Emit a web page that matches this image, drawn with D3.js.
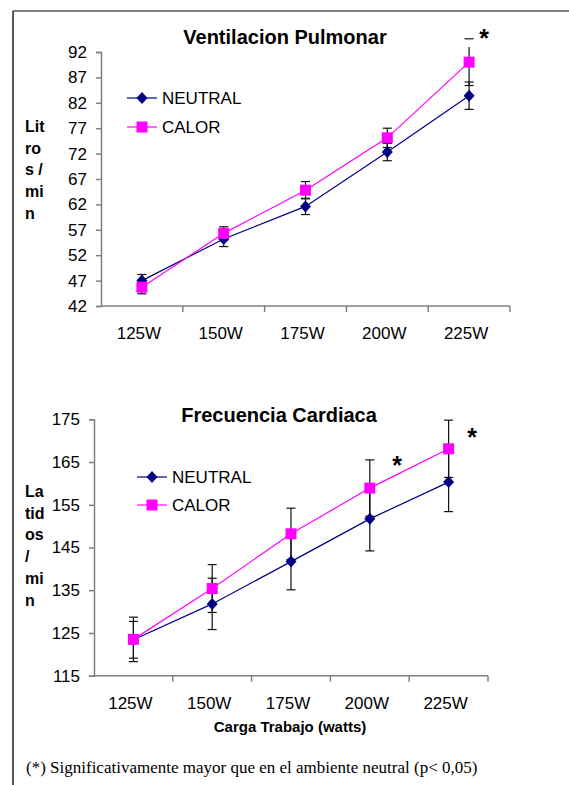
<!DOCTYPE html>
<html>
<head>
<meta charset="utf-8">
<script src="https://cdn.jsdelivr.net/npm/d3@7"></script>
<style>
  body { margin: 0; background: #fff; }
  text { font-family: "Liberation Sans", Arial, sans-serif; }
</style>
</head>
<body>
<div id="chart"></div>
<script>
// categories shared by both charts
var cargas = ["125W", "150W", "175W", "200W", "225W"];

// ventilacion pulmonar (litros/min)
var ventNeutral = [47.0, 55.2, 61.6, 72.3, 83.4];
var ventNeutralSd = [1.2, 1.5, 1.6, 1.7, 2.7];
var ventCalor = [45.7, 56.3, 64.8, 75.1, 90.0];
var ventCalorSd = [1.3, 1.3, 1.7, 1.9, 4.6];
var ventTicks = [42, 47, 52, 57, 62, 67, 72, 77, 82, 87, 92];

// frecuencia cardiaca (latidos/min)
var fcNeutral = [123.4, 131.8, 141.7, 151.7, 160.3];
var fcNeutralSd = [4.3, 6.0, 6.6, 7.5, 6.9];
var fcCalor = [123.5, 135.4, 148.2, 158.9, 168.1];
var fcCalorSd = [5.2, 5.6, 6.0, 6.6, 6.7];
var fcTicks = [115, 125, 135, 145, 155, 165, 175];

var navy = "#000080", magenta = "#ff00ff";

var svg = d3.select("#chart")
	.append("svg")
	.attr("width", 569)
	.attr("height", 785);

// outer frame (only top and left edges show)
svg.append("line").attr("x1", 13).attr("x2", 569).attr("y1", 11).attr("y2", 11)
	.attr("stroke", "#555").attr("stroke-width", 1.5);
svg.append("line").attr("x1", 13).attr("x2", 13).attr("y1", 11).attr("y2", 785)
	.attr("stroke", "#222").attr("stroke-width", 1.5);

function drawChart(c) {
	var g = svg.append("g");

	var x = d3.scaleBand().domain(cargas).range([c.left, c.right]);
	var y = d3.scaleLinear().domain(c.domain).range([c.bottom, c.top]);
	var cx = function(i) { return x(cargas[i]) + x.bandwidth() / 2; };

	// y axis
	var yAxis = g.append("g")
		.attr("transform", "translate(" + c.left + ",0)")
		.call(d3.axisLeft(y).tickValues(c.ticks).tickSize(5).tickPadding(9));
	yAxis.select(".domain").attr("stroke", "#808080").attr("stroke-width", 1.5);
	yAxis.selectAll(".tick line").attr("stroke", "#808080").attr("stroke-width", 1.5);
	yAxis.selectAll(".tick text").attr("font-size", 17).attr("fill", "#000")
		.attr("font-family", null);

	// x axis: ticks at category boundaries
	g.append("line").attr("x1", c.left).attr("x2", c.right)
		.attr("y1", c.bottom).attr("y2", c.bottom)
		.attr("stroke", "#808080").attr("stroke-width", 1.5);
	g.selectAll(".bt").data(cargas).enter().append("line")
		.attr("x1", function(d) { return x(d) + x.bandwidth(); })
		.attr("x2", function(d) { return x(d) + x.bandwidth(); })
		.attr("y1", c.bottom).attr("y2", c.bottom + 6)
		.attr("stroke", "#808080").attr("stroke-width", 1.5);
	g.selectAll(".lbl").data(cargas).enter().append("text")
		.attr("x", function(d) { return x(d) + x.bandwidth() / 2 - 3; })
		.attr("y", c.labelY)
		.attr("text-anchor", "middle")
		.attr("font-size", 17)
		.text(function(d) { return d; });

	// title
	g.append("text").attr("x", c.titleX).attr("y", c.titleY)
		.attr("text-anchor", "middle").attr("font-size", 20).attr("font-weight", "bold")
		.text(c.title);

	// y label, wrapped like the original
	g.append("text").attr("x", 25).attr("y", c.ylabY)
		.attr("font-size", 16).attr("font-weight", "bold")
		.selectAll("tspan").data(c.ylab).enter().append("tspan")
		.attr("x", 25).attr("dy", function(d, i) { return i ? 21.7 : 0; })
		.text(function(d) { return d; });

	if (c.xtitle) {
		g.append("text").attr("x", c.xtitleX).attr("y", c.xtitleY)
			.attr("text-anchor", "middle").attr("font-size", 15).attr("font-weight", "bold")
			.text(c.xtitle);
	}

	var clipId = "clip" + c.id;
	g.append("clipPath").attr("id", clipId).append("rect")
		.attr("x", 0).attr("width", 569).attr("y", c.top - 5).attr("height", 800);

	var series = [
		{ vals: c.neutral, sd: c.neutralSd, color: navy, shape: "diamond" },
		{ vals: c.calor, sd: c.calorSd, color: magenta, shape: "square" }
	];

	var line = d3.line()
		.x(function(d, i) { return cx(i); })
		.y(function(d) { return y(d); });

	// error bars first
	series.forEach(function(s) {
		var eb = g.append("g").attr("stroke", "#111").attr("stroke-width", 1.2);
		s.vals.forEach(function(v, i) {
			var xx = cx(i);
			eb.append("line").attr("x1", xx).attr("x2", xx)
				.attr("y1", y(v - s.sd[i])).attr("y2", y(v + s.sd[i]))
				.attr("clip-path", "url(#" + clipId + ")");
			[v - s.sd[i], v + s.sd[i]].forEach(function(e) {
				eb.append("line").attr("x1", xx - 4.5).attr("x2", xx + 4.5)
					.attr("y1", y(e)).attr("y2", y(e));
			});
		});
	});

	series.forEach(function(s) {
		g.append("path").datum(s.vals)
			.attr("d", line)
			.attr("fill", "none")
			.attr("stroke", s.color)
			.attr("stroke-width", 1.2);
	});

	function marker(sel, shape, color, px, py) {
		if (shape === "diamond") {
			sel.append("path")
				.attr("d", "M" + px + "," + (py - 6) + "L" + (px + 5.5) + "," + py +
					"L" + px + "," + (py + 6) + "L" + (px - 5.5) + "," + py + "Z")
				.attr("fill", color);
		} else {
			sel.append("rect").attr("x", px - 5.5).attr("y", py - 5.5)
				.attr("width", 11).attr("height", 11).attr("fill", color);
		}
	}

	series.forEach(function(s) {
		s.vals.forEach(function(v, i) { marker(g, s.shape, s.color, cx(i), y(v)); });
	});

	// legend
	var names = ["NEUTRAL", "CALOR"];
	series.forEach(function(s, i) {
		var ly = c.legY + i * c.legGap;
		g.append("line").attr("x1", c.legX).attr("x2", c.legX + 30)
			.attr("y1", ly).attr("y2", ly).attr("stroke", s.color).attr("stroke-width", 1.2);
		marker(g, s.shape, s.color, c.legX + 15, ly);
		g.append("text").attr("x", c.legX + 35).attr("y", ly + 6)
			.attr("font-size", 17).text(names[i]);
	});

	// significance marks
	c.stars.forEach(function(st) {
		g.append("text").attr("x", st[0]).attr("y", st[1])
			.attr("text-anchor", "middle").attr("font-size", 25).attr("font-weight", "bold")
			.text("*");
	});
}

drawChart({
	id: 1,
	left: 101, right: 510, top: 52, bottom: 306,
	domain: [42, 92], ticks: ventTicks,
	neutral: ventNeutral, neutralSd: ventNeutralSd,
	calor: ventCalor, calorSd: ventCalorSd,
	labelY: 339,
	title: "Ventilacion Pulmonar", titleX: 285, titleY: 44,
	ylab: ["Lit", "ro", "s /", "mi", "n"], ylabY: 132,
	legX: 127, legY: 98, legGap: 29,
	stars: [[484, 47]]
});

drawChart({
	id: 2,
	left: 94, right: 488, top: 419.3, bottom: 675.7,
	domain: [115, 175], ticks: fcTicks,
	neutral: fcNeutral, neutralSd: fcNeutralSd,
	calor: fcCalor, calorSd: fcCalorSd,
	labelY: 709,
	title: "Frecuencia Cardiaca", titleX: 279, titleY: 422,
	ylab: ["La", "tid", "os", "/", "mi", "n"], ylabY: 497,
	xtitle: "Carga Trabajo (watts)", xtitleX: 290, xtitleY: 732,
	legX: 137, legY: 477, legGap: 28,
	stars: [[397, 474], [472, 446]]
});

svg.append("text").attr("x", 26).attr("y", 773)
	.style("font-family", "'Liberation Serif', 'Times New Roman', serif")
	.attr("font-size", 17)
	.text("(*) Significativamente mayor que en el ambiente neutral (p< 0,05)");
</script>
</body>
</html>
